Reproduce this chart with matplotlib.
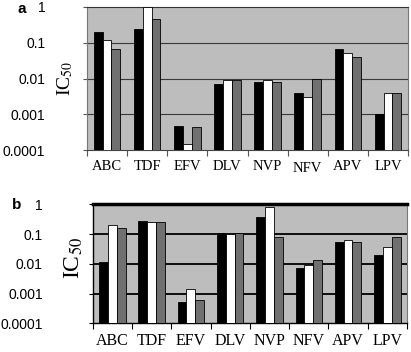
import numpy as np
import matplotlib.pyplot as plt
from matplotlib.transforms import ScaledTranslation

drugs = ['ABC', 'TDF', 'EFV', 'DLV', 'NVP', 'NFV', 'APV', 'LPV']

# panel a
a_black = [0.195, 0.24, 0.00048, 0.0071, 0.0081, 0.0040, 0.066, 0.0010]
a_white = [0.119, 1.0, 0.000145, 0.0090, 0.0090, 0.0030, 0.052, 0.0039]
a_grey = [0.066, 0.47, 0.00043, 0.0092, 0.0081, 0.0100, 0.041, 0.0039]

# panel b
b_black = [0.0118, 0.275, 0.00053, 0.109, 0.385, 0.0074, 0.054, 0.0199]
b_white = [0.197, 0.26, 0.00147, 0.098, 0.79, 0.0089, 0.062, 0.0357]
b_grey = [0.16, 0.26, 0.00059, 0.105, 0.08, 0.0131, 0.054, 0.078]

yticks = [1e-4, 1e-3, 1e-2, 1e-1, 1]
ylabels = ['0.0001', '0.001', '0.01', '0.1', '1']

bg = '#bdbdbd'
barcols = ['black', 'white', '#707070']
ymin = 1e-4

fig = plt.figure(figsize=(4.11, 3.52), dpi=100)
axa = fig.add_axes([87/411, 1-150/352, 321/411, 143/352])
axb = fig.add_axes([92.7/411, 1-323.3/352, 314.3/411, 119/352])


def panel(ax, series, w, gridc, gridw, ypad, xsize, tickc):
    x = np.arange(len(drugs))
    ax.set_facecolor(bg)
    for j, vals in enumerate(series):
        v = np.array(vals)
        ax.bar(x + (j-1)*w, v - ymin, w, bottom=ymin, color=barcols[j],
               edgecolor='black', linewidth=0.6, zorder=3)
    ax.set_yscale('log')
    ax.set_ylim(ymin, 1)
    ax.set_xlim(-0.5, len(drugs)-0.5)
    ax.set_yticks(yticks)
    ax.set_yticklabels(ylabels, family='Liberation Sans', fontsize=10)
    ax.minorticks_off()
    for yv in yticks[1:-1]:
        ax.axhline(yv, color=gridc, lw=gridw, zorder=1)
    ax.set_xticks(x)
    ax.set_xticklabels(drugs, family='Liberation Serif', fontsize=xsize)
    ax.set_xticks(np.arange(-0.5, len(drugs)), minor=True)
    ax.tick_params(axis='x', which='major', length=0, pad=7)
    ax.tick_params(axis='x', which='minor', length=4, color=tickc, width=0.8)
    ax.tick_params(axis='y', length=3, color=tickc, pad=ypad)


panel(axa, [a_black, a_white, a_grey], 0.22, '#3a3a3a', 0.8, 27, 10.5, '#555555')
panel(axb, [b_black, b_white, b_grey], 0.225, 'black', 1.3, 33, 11.5, 'black')

# NFV label sits a bit lower in panel a
lab = axa.get_xticklabels()[5]
lab.set_transform(lab.get_transform() + ScaledTranslation(0, -1.5/72, fig.dpi_scale_trans))

for s in ['left', 'right']:
    axa.spines[s].set_color('#777777')
    axa.spines[s].set_linewidth(0.8)
axa.spines['top'].set_color('#333333')
axa.spines['top'].set_linewidth(0.8)
axa.spines['bottom'].set_color('#444444')
axa.spines['bottom'].set_linewidth(0.8)

axb.spines['top'].set_linewidth(2.5)
axb.spines['left'].set_linewidth(1.0)
axb.spines['bottom'].set_linewidth(1.0)
axb.spines['right'].set_color('#777777')

fig.text(65/411, 1-78/352, 'IC$_{50}$', rotation=90, ha='center', va='center',
         family='Liberation Serif', fontsize=14, math_fontfamily='stix')
fig.text(74/411, 1-258/352, 'IC$_{50}$', rotation=90, ha='center', va='center',
         family='Liberation Serif', fontsize=17, math_fontfamily='stix')
fig.text(22/411, 1-9/352, 'a', ha='center', va='center', family='Liberation Sans',
         fontsize=11, fontweight='bold')
fig.text(17/411, 1-205/352, 'b', ha='center', va='center', family='Liberation Sans',
         fontsize=11, fontweight='bold')

fig.savefig('out.png', dpi=100)
